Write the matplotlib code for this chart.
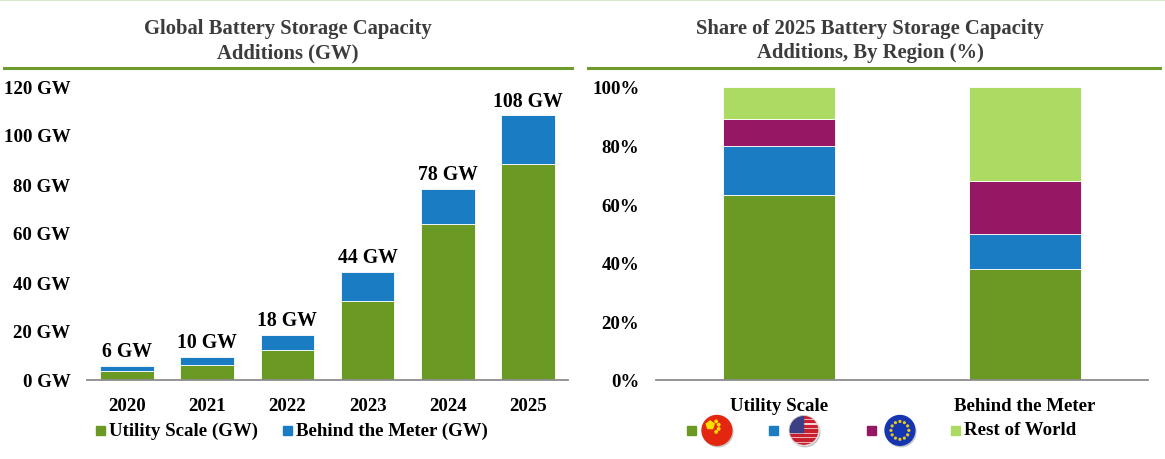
import numpy as np
import matplotlib
matplotlib.use("Agg")
from matplotlib import pyplot as plt
from matplotlib.patches import Rectangle, Circle, RegularPolygon
from matplotlib.lines import Line2D

plt.rcParams['font.family'] = ['Liberation Serif', 'DejaVu Serif']
plt.rcParams['font.weight'] = 'bold'

# left chart data (GW)
years = ["2020", "2021", "2022", "2023", "2024", "2025"]
utility_gw = [3.8, 6.3, 12.3, 32.2, 63.7, 88.0]
btm_gw = [2.0, 3.2, 6.0, 11.8, 14.3, 20.0]
total_labels = ["6 GW", "10 GW", "18 GW", "44 GW", "78 GW", "108 GW"]
gw_ticks = [0, 20, 40, 60, 80, 100, 120]

# right chart data (% share of 2025 additions)
segments = ["Utility Scale", "Behind the Meter"]
china_pct = [63, 38]
us_pct = [17, 12]
eu_pct = [9, 18]
row_pct = [11, 32]
pct_ticks = [0, 20, 40, 60, 80, 100]

GREEN = "#6b9a24"
BLUE = "#1a7cc3"
PURPLE = "#961865"
LIGHT = "#acdb63"
RULE = "#6f9a2c"
TITLE_C = "#3c3c3c"
FS = 13.6

W, H = 1165, 460
fig = plt.figure(figsize=(W / 100, H / 100), dpi=100)


def fx(px):
    return px / W


def fy(py):
    return 1 - py / H


# top pale line
fig.add_artist(Line2D([0, 1], [fy(0.8), fy(0.8)], color="#dbe9cd", lw=1.5))

# titles and rules
fig.text(fx(288), fy(41), "Global Battery Storage Capacity\nAdditions (GW)",
         ha="center", va="center", fontsize=14.9, color=TITLE_C, linespacing=1.3)
fig.text(fx(870), fy(41), "Share of 2025 Battery Storage Capacity\nAdditions, By Region (%)",
         ha="center", va="center", fontsize=14.9, color=TITLE_C, linespacing=1.3)
fig.add_artist(Line2D([fx(4), fx(572)], [fy(68.5), fy(68.5)], color=RULE, lw=2.2))
fig.add_artist(Line2D([fx(588), fx(1160)], [fy(68.5), fy(68.5)], color=RULE, lw=2.2))

# ---- left chart
ax1 = fig.add_axes([fx(87), fy(381), fx(568) - fx(87), fy(87) - fy(381)])
x = np.arange(len(years))
ax1.bar(x, utility_gw, width=0.67, color=GREEN, edgecolor="white", linewidth=0.6)
ax1.bar(x, btm_gw, bottom=utility_gw, width=0.67, color=BLUE, edgecolor="white", linewidth=0.6)
for i, lab in enumerate(total_labels):
    ax1.annotate(lab, (x[i], utility_gw[i] + btm_gw[i]), xytext=(0, 3.5),
                 textcoords="offset points", ha="center", va="bottom", fontsize=14.2)
ax1.set_xlim(-0.5, len(years) - 0.5)
ax1.set_ylim(0, 120)
ax1.set_yticks(gw_ticks)
ax1.set_yticklabels(["%d GW" % v for v in gw_ticks])
ax1.set_xticks(x)
ax1.set_xticklabels(years)

# ---- right chart
ax2 = fig.add_axes([fx(656), fy(381), fx(1148) - fx(656), fy(88) - fy(381)])
x2 = np.arange(len(segments))
b = np.zeros(len(segments))
for vals, col in [(china_pct, GREEN), (us_pct, BLUE), (eu_pct, PURPLE), (row_pct, LIGHT)]:
    ax2.bar(x2, vals, bottom=b, width=0.455, color=col, edgecolor="white", linewidth=0.6)
    b = b + np.array(vals)
ax2.set_xlim(-0.5, 1.5)
ax2.set_ylim(0, 100)
ax2.set_yticks(pct_ticks)
ax2.set_yticklabels(["%d%%" % v for v in pct_ticks])
ax2.set_xticks(x2)
ax2.set_xticklabels(segments)

for ax in (ax1, ax2):
    for s in ["top", "right", "left"]:
        ax.spines[s].set_visible(False)
    ax.spines["bottom"].set_color("#8c8c8c")
    ax.spines["bottom"].set_linewidth(1.3)
    ax.tick_params(length=0, labelsize=FS)
    ax.tick_params(axis="y", pad=12)
    ax.tick_params(axis="x", pad=12)


# ---- legends
def square(px, py, col):
    fig.add_artist(Rectangle((fx(px), fy(py + 4.5)), fx(9), 9 / H, color=col,
                             transform=fig.transFigure))


square(96, 431, GREEN)
fig.text(fx(109), fy(431), "Utility Scale (GW)", ha="left", va="center", fontsize=FS)
square(283, 431, BLUE)
fig.text(fx(296), fy(431), "Behind the Meter (GW)", ha="left", va="center", fontsize=FS)

square(687, 431, GREEN)
square(769, 431, BLUE)
square(867, 431, PURPLE)
square(951, 431, LIGHT)
fig.text(fx(964), fy(431), "Rest of World", ha="left", va="center", fontsize=FS)


def flag_axes(cx, cy, r=15):
    fa = fig.add_axes([fx(cx - r - 2), fy(cy + r + 3), fx(2 * r + 5), (2 * r + 5) / H])
    fa.set_xlim(-1.12, 1.2)
    fa.set_ylim(-1.25, 1.1)
    fa.set_aspect("equal")
    fa.axis("off")
    fa.add_patch(Circle((0.08, -0.1), 1.0, color="#b0b0b0", alpha=0.6))
    circ = Circle((0, 0), 1.0, color="none")
    fa.add_patch(circ)
    return fa, circ


# China
fa, circ = flag_axes(717, 432)
fa.add_patch(Circle((0, 0), 1.0, color="#e3260f"))
fa.add_patch(RegularPolygon((-0.45, 0.35), 5, radius=0.28, color="#ffde00"))
for sx, sy in [(-0.05, 0.6), (0.12, 0.38), (0.12, 0.1), (-0.05, -0.1)]:
    fa.add_patch(RegularPolygon((sx, sy), 5, radius=0.09, color="#ffde00"))

# US
fa, circ = flag_axes(804, 432)
fa.add_patch(Circle((0, 0), 1.0, color="white"))
for k in range(13):
    if k % 2 == 0:
        p = fa.add_patch(Rectangle((-1, 1 - (k + 1) * 2 / 13), 2, 2 / 13, color="#c8202e"))
        p.set_clip_path(circ)
p = fa.add_patch(Rectangle((-1, 1 - 7 * 2 / 13), 0.95, 7 * 2 / 13, color="#3a3f86"))
p.set_clip_path(circ)
fa.add_patch(Circle((0, 0), 1.0, fill=False, ec="#dddddd", lw=0.6))

# EU
fa, circ = flag_axes(900, 432)
fa.add_patch(Circle((0, 0), 1.0, color="#1536b0"))
for a in np.linspace(0, 2 * np.pi, 13)[:-1]:
    fa.add_patch(Circle((0.6 * np.cos(a), 0.6 * np.sin(a)), 0.06, color="#e8c81c"))

fig.savefig("out.png", dpi=100)
